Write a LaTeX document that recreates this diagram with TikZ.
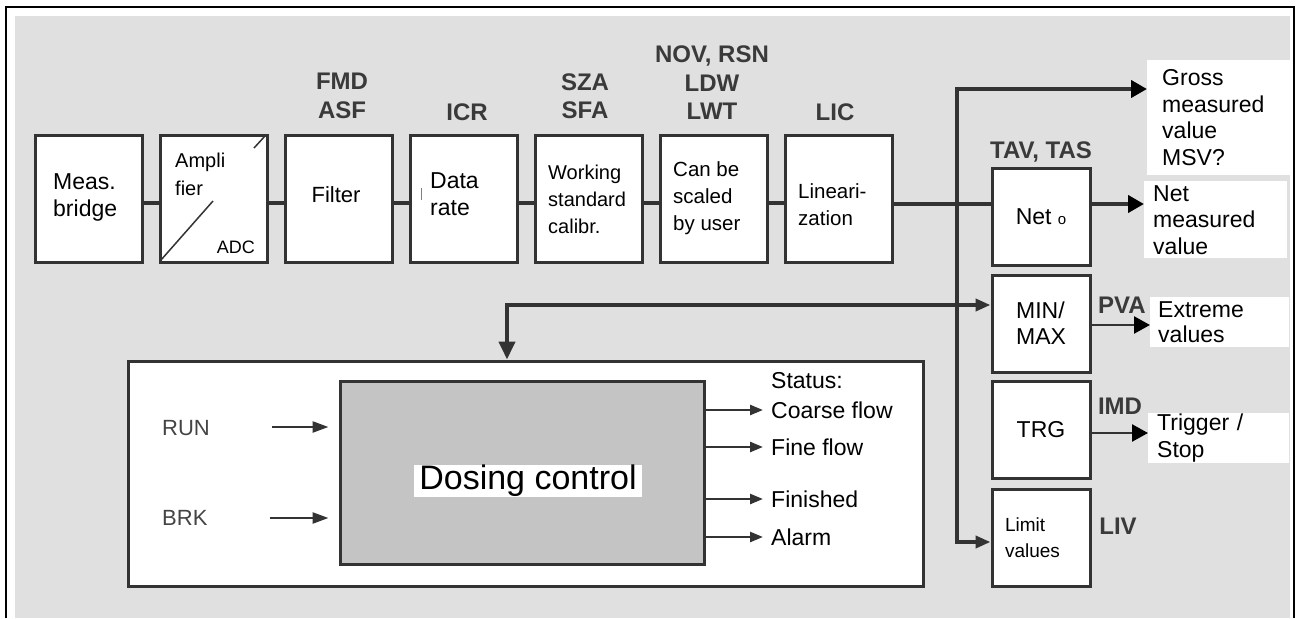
\documentclass[tikz,border=0pt]{standalone}
\usepackage{fontspec}
\setmainfont{Liberation Sans}
\usetikzlibrary{arrows.meta}
\definecolor{bg}{HTML}{E0E0E0}
\definecolor{dk}{HTML}{333333}
\definecolor{lbl}{HTML}{3A3A3A}
\definecolor{runc}{HTML}{444444}
\definecolor{dgray}{HTML}{C4C4C4}
\newcommand\fsz[2]{\fontsize{#1}{#2}\selectfont}
\begin{document}
\begin{tikzpicture}[x=1pt,y=-1pt,
  box/.style={draw=dk, line width=3pt, fill=white, minimum width=107pt, minimum height=127pt, inner sep=0pt},
  rbox/.style={draw=dk, line width=3pt, fill=white, minimum width=98pt, minimum height=97pt, inner sep=0pt},
  txt/.style={align=left, inner sep=0pt, text=black},
  lab/.style={font=\fsz{24}{28.5}\bfseries, text=lbl, align=center, inner sep=0pt},
  outbox/.style={fill=white, align=left, inner ysep=0pt, anchor=north west, font=\fsz{23}{26.5}},
  conn/.style={draw=dk, line width=4.5pt},
  bus/.style={draw=dk, line width=4.5pt},
  thinc/.style={draw=dk, line width=2.5pt},
  bigtip/.tip={Triangle[length=16pt,width=17pt,color=black]},
  medtip/.tip={Triangle[length=15pt,width=12pt,color=dk]},
  downtip/.tip={Triangle[length=18pt,width=16pt,color=dk]},
  runtip/.tip={Triangle[length=16pt,width=11pt,color=dk]},
  sttip/.tip={Triangle[length=13pt,width=10pt,color=dk]}
]
\useasboundingbox (0,0) rectangle (1300,618);
\fill[white] (0,0) rectangle (1300,618);
\fill[bg] (15,16) rectangle (1290,618);
\draw[black, line width=2.5pt] (6,618) -- (6,7) -- (1294,7) -- (1294,618);

% top chain of blocks
\node[box] (b1) at (88.5,198.5) {};
\node[box] (b2) at (213.5,198.5) {};
\node[box] (b3) at (338.5,198.5) {};
\node[box] (b4) at (463.5,198.5) {};
\node[box] (b5) at (588.5,198.5) {};
\node[box] (b6) at (713.5,198.5) {};
\node[box] (b7) at (838.5,198.5) {};

\draw[conn] ([yshift=-4.5pt]b1.east) -- ([yshift=-4.5pt]b2.west);
\draw[conn] ([yshift=-4.5pt]b2.east) -- ([yshift=-4.5pt]b3.west);
\draw[conn] ([yshift=-4.5pt]b3.east) -- ([yshift=-4.5pt]b4.west);
\draw[conn] ([yshift=-4.5pt]b4.east) -- ([yshift=-4.5pt]b5.west);
\draw[conn] ([yshift=-4.5pt]b5.east) -- ([yshift=-4.5pt]b6.west);
\draw[conn] ([yshift=-4.5pt]b6.east) -- ([yshift=-4.5pt]b7.west);

% block texts
\node[txt, anchor=west, font=\fsz{23}{27}] (t1) at (53,197) {Meas.\\bridge};
\node[txt, anchor=west, font=\fsz{20}{28}] (t2) at (175,174) {Ampli\\fier};
\node[txt, anchor=east, font=\fsz{18}{18}] (t2b) at (255,247) {ADC};
\draw[dk, line width=1.5pt] (161,260) -- (213,201);
\draw[dk, line width=1.5pt] (254,148) -- (265,136);
\node[txt, font=\fsz{22}{27}] (t3) at (336,195) {Filter};
\node[txt, anchor=west, font=\fsz{23}{27}] (t4) at (430,194.5) {Data\\rate};
\draw[gray, line width=1pt] (421,188) -- (421,200);
\node[txt, anchor=west, font=\fsz{20}{27}] (t5) at (548,199) {Working\\standard\\calibr.};
\node[txt, anchor=west, font=\fsz{20.5}{27}] (t6) at (673,198) {Can be\\scaled\\by user};
\node[txt, anchor=west, font=\fsz{20.5}{27}] (t7) at (798,205) {Lineari-\\zation};

% labels
\node[lab] (lFMD) at (342,96) {FMD\\ASF};
\node[lab] (lICR) at (467,112) {ICR};
\node[lab] (lSZA) at (585,96) {SZA\\SFA};
\node[lab] (lNOV) at (712,83) {NOV, RSN\\LDW\\LWT};
\node[lab] (lLIC) at (835,112) {LIC};
\node[lab] (lTAV) at (1041,152) {TAV, TAS};
\node[lab] (lPVA) at (1122,305) {PVA};
\node[lab] (lIMD) at (1120,406) {IMD};
\node[lab] (lLIV) at (1118,526) {LIV};

% right column boxes
\node[rbox, font=\fsz{23}{26}] (net) at (1041,216.5) {Net {\fsz{15}{15}o}};
\node[rbox, font=\fsz{23}{26}, align=left] (mm) at (1041,323.5) {MIN/\\MAX};
\node[rbox, font=\fsz{23}{26}] (trg) at (1041,429.5) {TRG};
\node[rbox, font=\fsz{19}{26}, align=left, text width=72pt, inner xsep=13pt] (lim) at (1041,537.5) {Limit\\values};

% output boxes
\node[outbox, minimum height=115pt, inner xsep=15pt, text width=116pt] (gross) at (1147,60) {Gross\\measured\\value\\MSV?};
\node[outbox, minimum height=77pt, inner xsep=9pt, text width=125pt] (netout) at (1144,181) {Net\\measured\\value};
\node[outbox, minimum height=50pt, inner xsep=8pt, text width=123pt, font=\fsz{23}{25}] (ext) at (1150,297) {Extreme\\values};
\node[outbox, minimum height=50pt, inner xsep=9pt, text width=123pt, font=\fsz{23}{27}] (trig) at (1148,413) {Trigger /\\Stop};

% main line and bus
\coordinate (jn) at (957,204);
\coordinate (busTop) at (957,89);
\coordinate (busBot) at (957,542);
\draw[conn] ([yshift=-5.5pt]b7.east) -- ([yshift=-5.5pt]b7.east -| net.west);
\draw[bus, line join=miter, {medtip}-{bigtip}] (busBot -| lim.west) -- (busBot) -- (busTop) -- (busTop -| gross.west);
\draw[conn, -{bigtip}] ([yshift=12.5pt]net.east) -- ([yshift=12.5pt]net.east -| netout.west);
\draw[thinc, -{bigtip}] ([yshift=-1.5pt]mm.east) -- ([yshift=-1.5pt]mm.east -| ext.west);
\draw[thinc, -{bigtip}] ([yshift=-3.5pt]trg.east) -- ([yshift=-3.5pt]trg.east -| trig.west);

% dosing control
\node[draw=dk, line width=3pt, fill=white, minimum width=795pt, minimum height=225pt, inner sep=0pt] (dos) at (525.5,473.5) {};
\node[draw=dk, line width=3pt, fill=dgray, minimum width=364pt, minimum height=183pt, inner sep=0pt] (ctl) at (522,472.5) {};
\node[fill=white, font=\fsz{34}{34}, inner xsep=5pt, inner ysep=0pt, minimum height=32pt] (ctltxt) at (528,481) {Dosing control};

\coordinate (fb) at (507,305);
\draw[conn, line width=4pt, line join=miter, {downtip}-{medtip}] (dos.north -| fb) -- (fb) -- (fb -| mm.west);

\node[anchor=west, inner sep=0pt, font=\fsz{22}{22}, text=runc] (run) at (162,428) {RUN};
\node[anchor=west, inner sep=0pt, font=\fsz{22}{22}, text=runc] (brk) at (162,518) {BRK};
\draw[thinc, -{runtip}] ([xshift=62pt,yshift=1pt]run.east) -- ([xshift=-10pt,yshift=1pt]run.east -| ctl.west);
\draw[thinc, -{runtip}] ([xshift=62pt]brk.east) -- ([xshift=-10pt]brk.east -| ctl.west);

\node[anchor=west, inner sep=0pt, font=\fsz{23}{23}] (st0) at (771,381) {Status:};
\node[anchor=west, inner sep=0pt, font=\fsz{23}{23}] (st1) at (771,410) {Coarse flow};
\node[anchor=west, inner sep=0pt, font=\fsz{23}{23}] (st2) at (771,447) {Fine flow};
\node[anchor=west, inner sep=0pt, font=\fsz{23}{23}] (st3) at (771,499) {Finished};
\node[anchor=west, inner sep=0pt, font=\fsz{23}{23}] (st4) at (771,537) {Alarm};
\draw[thinc, -{sttip}] (ctl.east |- st1.west) -- ([xshift=-8pt]st1.west);
\draw[thinc, -{sttip}] (ctl.east |- st2.west) -- ([xshift=-8pt]st2.west);
\draw[thinc, -{sttip}] (ctl.east |- st3.west) -- ([xshift=-8pt]st3.west);
\draw[thinc, -{sttip}] (ctl.east |- st4.west) -- ([xshift=-8pt]st4.west);
\end{tikzpicture}
\end{document}
